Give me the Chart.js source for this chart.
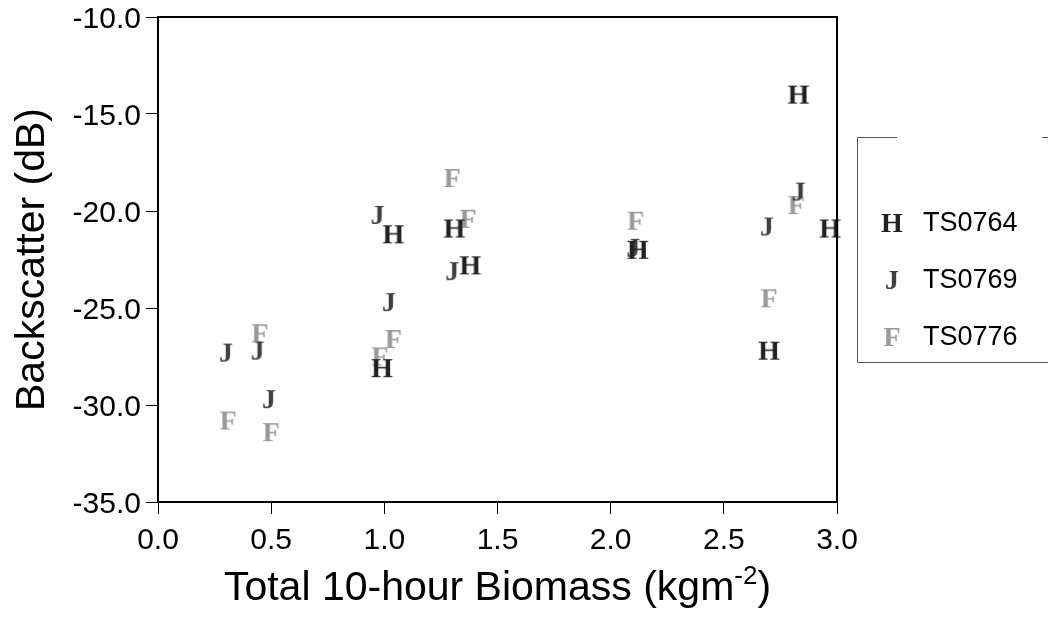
<!DOCTYPE html>
<html>
<head>
<meta charset="utf-8">
<script src="https://cdn.jsdelivr.net/npm/chart.js@4"></script>
<style>
  html, body { margin: 0; padding: 0; background: #fff; }
  #wrap { width: 1048px; height: 621px; position: relative; }
</style>
</head>
<body>
<div id="wrap"><canvas id="chart" width="1048" height="621"></canvas></div>
<script>
// biomass (kg/m2) and backscatter (dB)
const ts0764X = [2.83, 1.04, 1.31, 1.38, 2.12, 2.97, 2.70, 0.99];
const ts0764Y = [-14.0, -21.2, -20.9, -22.8, -22.0, -20.9, -27.2, -28.1];
const ts0769X = [0.97, 1.02, 1.30, 2.10, 2.69, 2.83, 0.30, 0.44, 0.49];
const ts0769Y = [-20.2, -24.7, -23.1, -21.9, -20.8, -19.0, -27.3, -27.2, -29.7];
const ts0776X = [1.30, 1.37, 1.04, 0.98, 2.11, 2.82, 2.70, 0.45, 0.31, 0.50];
const ts0776Y = [-18.3, -20.4, -26.6, -27.5, -20.5, -19.7, -24.5, -26.3, -30.8, -31.4];

const seriesNames = ['TS0764', 'TS0769', 'TS0776'];
const seriesLetters = ['H', 'J', 'F'];
const seriesColors = ['#222222', '#404040', '#999999'];

const xTicks = [0.0, 0.5, 1.0, 1.5, 2.0, 2.5, 3.0];
const yTicks = [-35, -30, -25, -20, -15, -10];

function letterMarker(letter, color) {
  const c = document.createElement('canvas');
  c.width = 34;
  c.height = 34;
  const g = c.getContext('2d');
  g.font = 'bold 28px "Liberation Serif", serif';
  g.fillStyle = color;
  g.textAlign = 'center';
  g.textBaseline = 'alphabetic';
  g.fillText(letter, 17, 17 + 9.3);
  return c;
}

const markers = seriesLetters.map((l, i) => letterMarker(l, seriesColors[i]));

function toPoints(xs, ys) {
  return xs.map((x, i) => ({ x: x, y: ys[i] }));
}

const allX = [ts0764X, ts0769X, ts0776X];
const allY = [ts0764Y, ts0769Y, ts0776Y];

const datasets = seriesNames.map((name, i) => ({
  label: name,
  data: toPoints(allX[i], allY[i]),
  pointStyle: markers[i],
  backgroundColor: seriesColors[i],
  borderColor: seriesColors[i],
  clip: false
}));

const sansFont = '"Liberation Sans", Arial, sans-serif';

// frame, x title with superscript, legend box
const extrasPlugin = {
  id: 'extras',
  afterDraw(chart) {
    const ctx = chart.ctx;
    const a = chart.chartArea;
    ctx.save();
    ctx.strokeStyle = '#000';
    ctx.lineWidth = 2;
    ctx.beginPath();
    ctx.moveTo(a.left, a.top);
    ctx.lineTo(a.right, a.top);
    ctx.lineTo(a.right, a.bottom);
    ctx.stroke();

    // x axis title
    const main = 'Total 10-hour Biomass (kgm';
    const sup = '-2';
    const tail = ')';
    ctx.fillStyle = '#000';
    ctx.textBaseline = 'alphabetic';
    ctx.font = '41px ' + sansFont;
    const w1 = ctx.measureText(main).width;
    const w3 = ctx.measureText(tail).width;
    ctx.font = '26px ' + sansFont;
    const w2 = ctx.measureText(sup).width;
    const cx = (a.left + a.right) / 2;
    let x0 = cx - (w1 + w2 + w3) / 2;
    const base = 600;
    ctx.font = '41px ' + sansFont;
    ctx.textAlign = 'left';
    ctx.fillText(main, x0, base);
    ctx.font = '26px ' + sansFont;
    ctx.fillText(sup, x0 + w1, base - 16);
    ctx.font = '41px ' + sansFont;
    ctx.fillText(tail, x0 + w1 + w2, base);

    // legend
    ctx.strokeStyle = '#555';
    ctx.lineWidth = 1;
    ctx.beginPath();
    ctx.moveTo(897, 137.5);
    ctx.lineTo(857.5, 137.5);
    ctx.lineTo(857.5, 362.5);
    ctx.lineTo(1048, 362.5);
    ctx.moveTo(1042, 137.5);
    ctx.lineTo(1048, 137.5);
    ctx.stroke();
    const rows = [223, 280, 337];
    ctx.font = '27px ' + sansFont;
    ctx.fillStyle = '#000';
    ctx.textBaseline = 'middle';
    seriesNames.forEach((name, i) => {
      ctx.drawImage(markers[i], 892 - 17, rows[i] - 17);
      ctx.fillText(name, 923, rows[i] + 1);
    });
    ctx.restore();
  }
};

new Chart(document.getElementById('chart'), {
  type: 'scatter',
  data: { datasets: datasets },
  options: {
    responsive: false,
    animation: false,
    layout: { padding: { top: 0, right: 211, left: 0, bottom: 0 } },
    plugins: {
      legend: { display: false },
      tooltip: { enabled: false }
    },
    scales: {
      x: {
        type: 'linear',
        min: 0,
        max: 3,
        afterBuildTicks(scale) { scale.ticks = xTicks.map(v => ({ value: v })); },
        afterFit(scale) { scale.height = 119; },
        grid: { drawOnChartArea: false, drawTicks: true, tickLength: 12, tickColor: '#000', lineWidth: 1 },
        border: { display: true, color: '#000', width: 2 },
        ticks: {
          color: '#000',
          font: { family: sansFont, size: 30 },
          padding: 9,
          callback: v => Number(v).toFixed(1)
        }
      },
      y: {
        type: 'linear',
        min: -35,
        max: -10,
        afterBuildTicks(scale) { scale.ticks = yTicks.map(v => ({ value: v })); },
        afterFit(scale) { scale.width = 158; scale.paddingTop = 17; },
        grid: { drawOnChartArea: false, drawTicks: true, tickLength: 12, tickColor: '#000', lineWidth: 1 },
        border: { display: true, color: '#000', width: 2 },
        ticks: {
          color: '#000',
          font: { family: sansFont, size: 30 },
          padding: 5,
          labelOffset: 3,
          callback: v => Number(v).toFixed(1)
        },
        title: {
          display: true,
          text: 'Backscatter (dB)',
          color: '#000',
          font: { family: sansFont, size: 41 },
          padding: { top: 8, bottom: 0 }
        }
      }
    }
  },
  plugins: [extrasPlugin]
});
</script>
</body>
</html>
